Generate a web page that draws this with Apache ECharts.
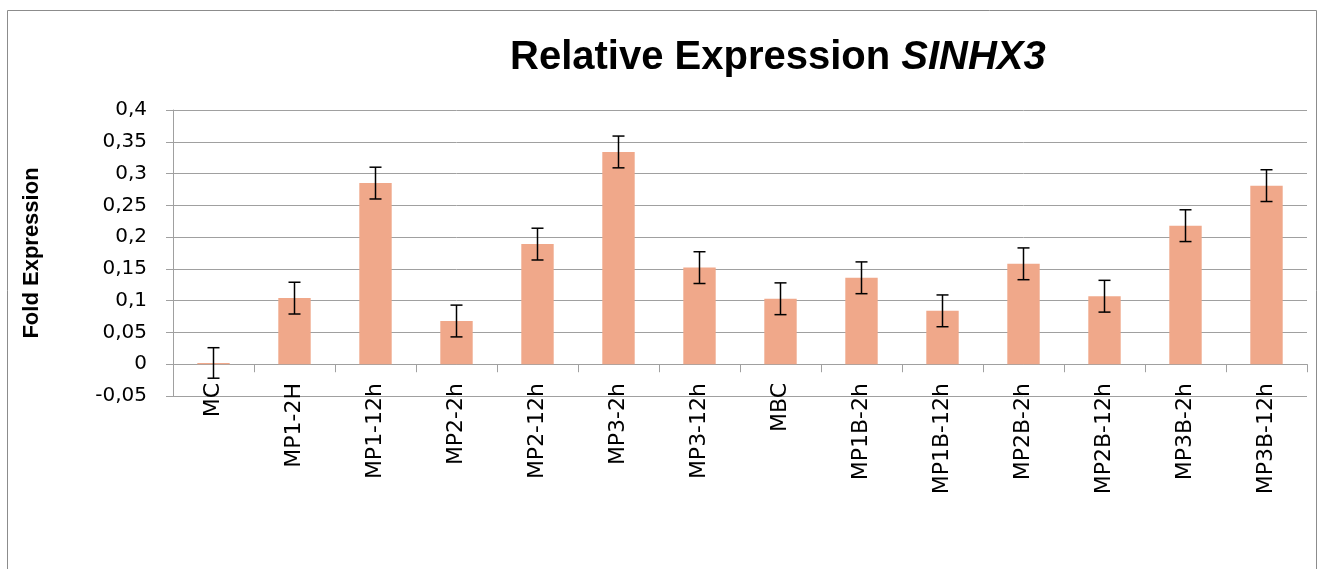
<!DOCTYPE html>
<html>
<head>
<meta charset="utf-8">
<script src="https://cdn.jsdelivr.net/npm/echarts@6/dist/echarts.min.js"></script>
<style>
html,body{margin:0;padding:0;background:#fff;}
#chart{width:1322px;height:569px;}
</style>
</head>
<body>
<div id="chart"></div>
<script>
const categories = ['MC','MP1-2H','MP1-12h','MP2-2h','MP2-12h','MP3-2h','MP3-12h','MBC','MP1B-2h','MP1B-12h','MP2B-2h','MP2B-12h','MP3B-2h','MP3B-12h'];
const values = [0.002, 0.104, 0.285, 0.068, 0.189, 0.334, 0.152, 0.103, 0.136, 0.084, 0.158, 0.107, 0.218, 0.281];
const errors = [0.024, 0.025, 0.025, 0.025, 0.025, 0.025, 0.025, 0.025, 0.025, 0.025, 0.025, 0.025, 0.025, 0.025];
const yTicks = { min: -0.05, max: 0.4, interval: 0.05 };

const chart = echarts.init(document.getElementById('chart'), null, { renderer: 'canvas' });

const errData = categories.map((c, i) => [i, values[i] - errors[i], values[i] + errors[i]]);

const option = {
  backgroundColor: '#ffffff',
  animation: false,
  title: {
    text: '{a|Relative Expression }{b|SINHX3}',
    left: 505,
    top: 33,
    textStyle: {
      rich: {
        a: { fontFamily: 'Liberation Sans', fontWeight: 'bold', fontSize: 40, color: '#000' },
        b: { fontFamily: 'Liberation Sans', fontWeight: 'bold', fontStyle: 'italic', fontSize: 40, color: '#000' }
      }
    }
  },
  graphic: [{
    type: 'rect',
    shape: { x: 7.5, y: 10.5, width: 1309, height: 600 },
    style: { fill: 'none', stroke: '#8c8c8c', lineWidth: 1 },
    silent: true
  }],
  grid: { left: 173, right: 15, top: 110, bottom: 173, containLabel: false },
  xAxis: {
    type: 'category',
    data: categories,
    boundaryGap: true,
    axisLine: { onZero: true, lineStyle: { color: '#a0a0a0', width: 1 } },
    axisTick: { show: true, length: 8, alignWithLabel: false, lineStyle: { color: '#a0a0a0' } },
    axisLabel: {
      rotate: 90,
      margin: -13,
      interval: 0,
      fontFamily: 'DejaVu Sans',
      fontSize: 22,
      color: '#000'
    },
    splitLine: { show: false }
  },
  yAxis: {
    type: 'value',
    min: yTicks.min,
    max: yTicks.max,
    interval: yTicks.interval,
    name: 'Fold Expression',
    nameLocation: 'middle',
    nameGap: 130,
    nameRotate: 90,
    nameTextStyle: { fontFamily: 'Liberation Sans', fontWeight: 'bold', fontSize: 22, color: '#000' },
    axisLine: { show: true, lineStyle: { color: '#a0a0a0', width: 1 } },
    axisTick: { show: true, length: 7, lineStyle: { color: '#a0a0a0' } },
    axisLabel: {
      margin: 26,
      fontFamily: 'DejaVu Sans',
      fontSize: 20,
      color: '#000',
      formatter: function (v) {
        const r = Math.round(v * 100) / 100;
        return String(r).replace('.', ',');
      }
    },
    splitLine: { show: true, lineStyle: { color: '#a0a0a0', width: 1 } }
  },
  series: [
    {
      type: 'bar',
      data: values,
      barWidth: '40%',
      itemStyle: { color: '#F0A88A' },
      z: 2
    },
    {
      type: 'custom',
      data: errData,
      z: 5,
      renderItem: function (params, api) {
        const x = api.value(0);
        const lo = api.coord([x, api.value(1)]);
        const hi = api.coord([x, api.value(2)]);
        const cw = 6;
        const style = { stroke: '#000', lineWidth: 1.5 };
        return {
          type: 'group',
          children: [
            { type: 'line', shape: { x1: hi[0], y1: hi[1], x2: lo[0], y2: lo[1] }, style: style },
            { type: 'line', shape: { x1: hi[0] - cw, y1: hi[1], x2: hi[0] + cw, y2: hi[1] }, style: style },
            { type: 'line', shape: { x1: lo[0] - cw, y1: lo[1], x2: lo[0] + cw, y2: lo[1] }, style: style }
          ]
        };
      }
    }
  ]
};
chart.setOption(option);
</script>
</body>
</html>
